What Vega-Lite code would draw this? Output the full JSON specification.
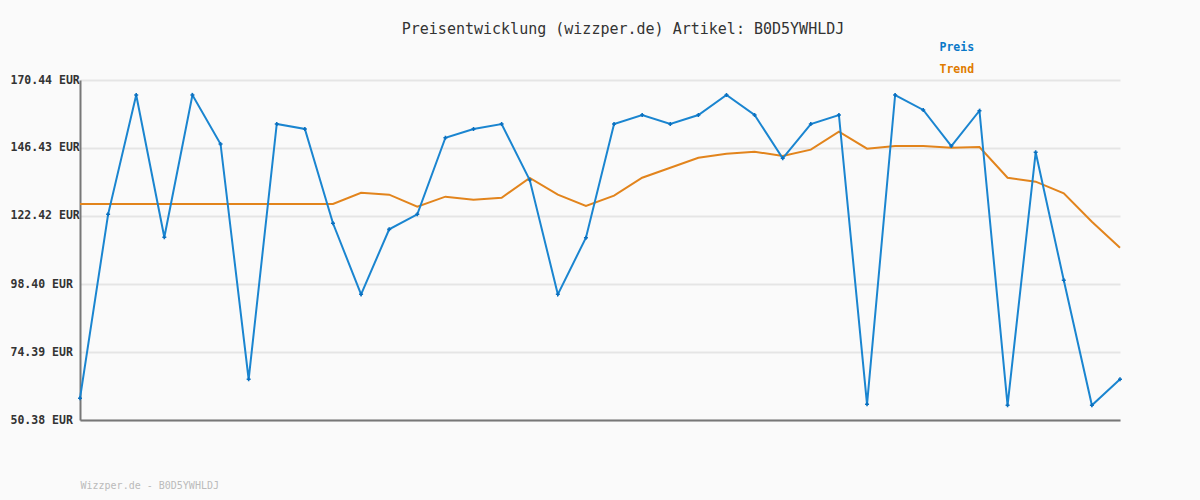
{
  "$schema": "https://vega.github.io/schema/vega-lite/v6.json",
  "width": 1040,
  "height": 340,
  "autosize": "none",
  "padding": {"left": 80, "top": 80, "right": 80, "bottom": 80},
  "background": "#fafafa",
  "config": {"view": {"stroke": null}, "font": "DejaVu Sans Mono"},
  "title": {
    "text": "Preisentwicklung (wizzper.de) Artikel: B0D5YWHLDJ",
    "font": "DejaVu Sans Mono",
    "fontSize": 15,
    "fontWeight": "normal",
    "color": "#333333",
    "anchor": "middle",
    "frame": "group",
    "dx": 23,
    "offset": 5
  },
  "data": {
    "values": [
      {"i": 0, "Preis": 58.04, "Trend": 126.65},
      {"i": 1, "Preis": 123.01, "Trend": 126.65},
      {"i": 2, "Preis": 165.14, "Trend": 126.65},
      {"i": 3, "Preis": 114.89, "Trend": 126.65},
      {"i": 4, "Preis": 165.14, "Trend": 126.65},
      {"i": 5, "Preis": 147.84, "Trend": 126.65},
      {"i": 6, "Preis": 64.75, "Trend": 126.65},
      {"i": 7, "Preis": 154.9, "Trend": 126.65},
      {"i": 8, "Preis": 153.14, "Trend": 126.65},
      {"i": 9, "Preis": 119.84, "Trend": 126.65},
      {"i": 10, "Preis": 94.76, "Trend": 130.64},
      {"i": 11, "Preis": 117.71, "Trend": 129.94},
      {"i": 12, "Preis": 123.01, "Trend": 125.71},
      {"i": 13, "Preis": 150.07, "Trend": 129.24},
      {"i": 14, "Preis": 153.14, "Trend": 128.17},
      {"i": 15, "Preis": 154.9, "Trend": 128.88},
      {"i": 16, "Preis": 135.13, "Trend": 135.84},
      {"i": 17, "Preis": 94.76, "Trend": 129.94},
      {"i": 18, "Preis": 114.76, "Trend": 125.95},
      {"i": 19, "Preis": 154.9, "Trend": 129.58},
      {"i": 20, "Preis": 158.08, "Trend": 135.94},
      {"i": 21, "Preis": 154.9, "Trend": 139.47},
      {"i": 22, "Preis": 158.08, "Trend": 143.0},
      {"i": 23, "Preis": 165.14, "Trend": 144.42},
      {"i": 24, "Preis": 158.08, "Trend": 145.12},
      {"i": 25, "Preis": 142.79, "Trend": 143.6},
      {"i": 26, "Preis": 154.9, "Trend": 145.84},
      {"i": 27, "Preis": 158.08, "Trend": 152.18},
      {"i": 28, "Preis": 55.92, "Trend": 146.18},
      {"i": 29, "Preis": 165.14, "Trend": 147.13},
      {"i": 30, "Preis": 159.85, "Trend": 147.13},
      {"i": 31, "Preis": 147.13, "Trend": 146.54},
      {"i": 32, "Preis": 159.6, "Trend": 146.78},
      {"i": 33, "Preis": 55.57, "Trend": 135.94},
      {"i": 34, "Preis": 144.91, "Trend": 134.53},
      {"i": 35, "Preis": 99.71, "Trend": 130.44},
      {"i": 36, "Preis": 55.57, "Trend": 120.4},
      {"i": 37, "Preis": 64.75, "Trend": 111.22}
    ]
  },
  "transform": [{"fold": ["Preis", "Trend"], "as": ["serie", "wert"]}],
  "encoding": {
    "x": {
      "field": "i",
      "type": "quantitative",
      "scale": {"domain": [0, 37], "nice": false, "zero": false},
      "axis": {
        "title": "Wizzper.de - B0D5YWHLDJ",
        "titleAnchor": "start",
        "titleFont": "DejaVu Sans Mono",
        "titleFontSize": 10,
        "titleFontWeight": "normal",
        "titleColor": "#bbbbbb",
        "titlePadding": 60,
        "labels": false,
        "ticks": false,
        "grid": false,
        "domainColor": "#777777",
        "domainWidth": 2
      }
    },
    "y": {
      "field": "wert",
      "type": "quantitative",
      "scale": {"domain": [50.38, 170.44], "nice": false, "zero": false},
      "axis": {
        "title": null,
        "values": [50.38, 74.39, 98.4, 122.42, 146.43, 170.44],
        "labelExpr": "format(datum.value, '.2f') + ' EUR'",
        "labelAlign": "left",
        "labelPadding": 70,
        "labelFont": "DejaVu Sans Mono",
        "labelFontSize": 11.5,
        "labelFontWeight": "bold",
        "labelColor": "#333333",
        "ticks": false,
        "gridColor": "#e5e5e5",
        "gridWidth": 2,
        "domainColor": "#777777",
        "domainWidth": 2
      }
    },
    "color": {
      "field": "serie",
      "type": "nominal",
      "scale": {"domain": ["Preis", "Trend"], "range": ["#1a85d0", "#e2841c"]},
      "legend": {
        "orient": "none",
        "legendX": 848,
        "legendY": -38,
        "title": null,
        "direction": "vertical",
        "symbolSize": 0,
        "symbolStrokeWidth": 0,
        "symbolOpacity": 0,
        "labelOffset": 0,
        "rowPadding": 9,
        "labelFont": "DejaVu Sans Mono",
        "labelFontSize": 11.5,
        "labelFontWeight": "bold",
        "labelColor": {"expr": "datum.label == 'Preis' ? '#0a78c8' : '#e07b00'"}
      }
    }
  },
  "layer": [
    {"transform": [{"filter": "datum.serie == 'Trend'"}], "mark": {"type": "line", "strokeWidth": 2}},
    {"transform": [{"filter": "datum.serie == 'Preis'"}], "mark": {"type": "line", "strokeWidth": 2}},
    {
      "transform": [{"filter": "datum.serie == 'Preis'"}],
      "mark": {"type": "point", "shape": "cross", "filled": true, "size": 16, "opacity": 1},
      "encoding": {"color": {"value": "#0a70c0"}}
    }
  ]
}
